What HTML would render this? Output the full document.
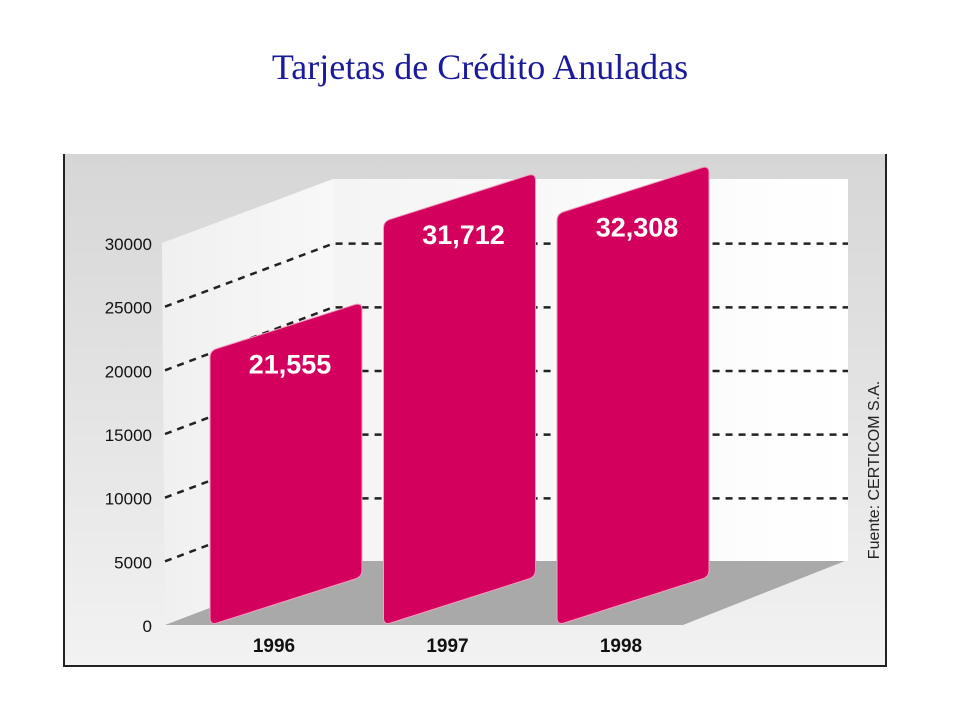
<!DOCTYPE html>
<html><head><meta charset="utf-8">
<style>
html,body{margin:0;padding:0;background:#fff;width:960px;height:720px;overflow:hidden}
svg{display:block}
</style></head>
<body>
<svg id="chart" width="960" height="720" xmlns="http://www.w3.org/2000/svg">
<defs>
<linearGradient id="bgG" x1="0" y1="0" x2="0" y2="1">
<stop offset="0" stop-color="#d6d6d6"/><stop offset="1" stop-color="#f2f2f2"/></linearGradient>
<linearGradient id="wallG" x1="0" y1="0" x2="1" y2="0">
<stop offset="0" stop-color="#f4f4f4"/><stop offset="1" stop-color="#ffffff"/></linearGradient>
<linearGradient id="sideG" x1="0" y1="0" x2="1" y2="0">
<stop offset="0" stop-color="#f0f0f0"/><stop offset="1" stop-color="#f8f8f8"/></linearGradient>
</defs>
<text x="480" y="79" text-anchor="middle" font-family="Liberation Serif, serif" font-size="36" fill="#1a1a9c">Tarjetas de Crédito Anuladas</text>
<rect x="64" y="154" width="822" height="512" fill="url(#bgG)"/>
<path d="M64 154 V666 H886 V154" fill="none" stroke="#222" stroke-width="2"/>
<rect x="333" y="179" width="515" height="382" fill="url(#wallG)"/>
<polygon points="162,243 333,179 333,561 165,625" fill="url(#sideG)"/>
<polygon points="165,625 683,625 845,561 333,561" fill="#a9a9a9"/>
<g id="grid"></g>
<g id="bars"></g>
<g id="axis"></g>
<text transform="translate(879,470) rotate(-90)" text-anchor="middle" font-family="Liberation Sans, sans-serif" font-size="16" fill="#222">Fuente: CERTICOM S.A.</text>
</svg>
<script>
const categories = ["1996", "1997", "1998"];
const values = [21555, 31712, 32308];
const valueLabels = ["21,555", "31,712", "32,308"];
const ticks = [0, 5000, 10000, 15000, 20000, 25000, 30000];

const NS = "http://www.w3.org/2000/svg";
const y0 = 625, pxPer = (625 - 243) / 30000;
const depthX = 168, depthY = 63;
function yScale(v){ return y0 - v * pxPer; }
const barX0 = 210, barStep = 173.5, barW = 152, skew = 48;
function xBand(i){ return barX0 + i * barStep; }
function mk(tag, attrs, parent){ const e = document.createElementNS(NS, tag); for (const k in attrs) e.setAttribute(k, attrs[k]); parent.appendChild(e); return e; }

const grid = document.getElementById('grid');
const axis = document.getElementById('axis');
ticks.forEach(t => {
  const y = yScale(t);
  const lab = mk('text', {x: 152, y: y + 7, 'text-anchor': 'end', 'font-family': 'Liberation Sans, sans-serif', 'font-size': '17', fill: '#111'}, axis);
  lab.textContent = String(t);
  
  
  if (t > 0 && t < 30000) {
    const p = mk('path', {d: `M165 ${y} L333 ${y - depthY} L848 ${y - depthY}`, fill: 'none', stroke: '#222', 'stroke-width': '2.5', 'stroke-dasharray': '7 6'}, grid);
    
    
  }
});

const bars = document.getElementById('bars');
values.forEach((v, i) => {
  const x = xBand(i), yt = yScale(v);
  const r = 7;
  const d = `M${x} ${yt + r} Q${x} ${yt} ${x + r} ${yt - 2} L${x + barW - r} ${yt - skew + 2} Q${x + barW} ${yt - skew} ${x + barW} ${yt - skew + r} L${x + barW} ${y0 - skew - r} Q${x + barW} ${y0 - skew} ${x + barW - r} ${y0 - skew + 2} L${x + r} ${y0 - 2} Q${x} ${y0} ${x} ${y0 - r} Z`;
  const bar = mk('path', {d: d, fill: '#d4005e', stroke: '#f0a0c0', 'stroke-width': '1'}, bars);
  
  
  const vl = mk('text', {x: x + 80, y: yt + 23, 'text-anchor': 'middle', 'font-family': 'Liberation Sans, sans-serif', 'font-size': '27', 'font-weight': 'bold', fill: '#fff'}, bars);
  vl.textContent = valueLabels[i];
  
  
  const cl = mk('text', {x: x + 64, y: 652, 'text-anchor': 'middle', 'font-family': 'Liberation Sans, sans-serif', 'font-size': '19', 'font-weight': 'bold', fill: '#111'}, axis);
  cl.textContent = categories[i];
  
  
});
</script>
</body></html>
